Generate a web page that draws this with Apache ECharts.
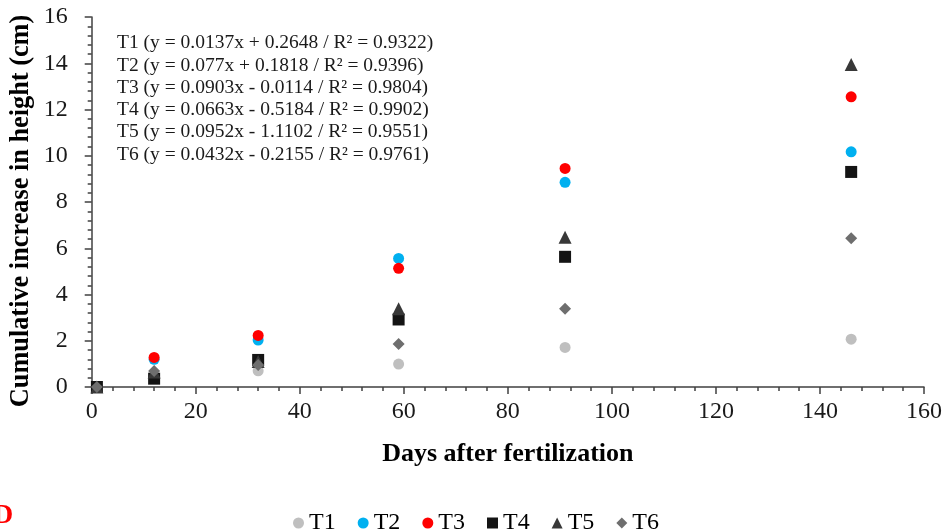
<!DOCTYPE html>
<html>
<head>
<meta charset="utf-8">
<script src="https://cdn.jsdelivr.net/npm/echarts@6/dist/echarts.min.js"></script>
<style>html,body{margin:0;padding:0;background:#fff;}#c{width:945px;height:531px;}</style>
</head>
<body>
<div id="c"></div>
<script>
const days = [1, 12, 32, 59, 91, 146];
const seriesNames = ['T1', 'T2', 'T3', 'T4', 'T5', 'T6'];
const T1 = [0, 0.45, 0.70, 0.99, 1.71, 2.07];
const T2 = [0, 1.20, 2.03, 5.56, 8.85, 10.17];
const T3 = [0, 1.28, 2.23, 5.13, 9.45, 12.55];
const T4 = [0, 0.36, 1.17, 2.92, 5.63, 9.30];
const T5 = [0, 0.65, 1.10, 3.38, 6.48, 13.95];
const T6 = [0, 0.69, 0.95, 1.86, 3.38, 6.43];
const yTitle = 'Cumulative increase in height (cm)';
const equations = [
  'T1 (y = 0.0137x + 0.2648 / R\u00B2 = 0.9322)',
  'T2 (y = 0.077x + 0.1818 / R\u00B2 = 0.9396)',
  'T3 (y = 0.0903x - 0.0114 / R\u00B2 = 0.9804)',
  'T4 (y = 0.0663x - 0.5184 / R\u00B2 = 0.9902)',
  'T5 (y = 0.0952x - 1.1102 / R\u00B2 = 0.9551)',
  'T6 (y = 0.0432x - 0.2155 / R\u00B2 = 0.9761)'
];
const allValues = [T1, T2, T3, T4, T5, T6];
const colors = ['#BFBFBF', '#00B0F0', '#FF0000', '#141414', '#383838', '#6E6E6E'];
const symbols = ['circle', 'circle', 'circle', 'rect', 'triangle', 'diamond'];
const sizes = [11, 11, 11, 12, 13, 12];

const FONT = '"Liberation Serif", "Times New Roman", serif';
const axisColor = '#404040';

const chart = echarts.init(document.getElementById('c'), null, {renderer: 'canvas'});
chart.setOption({
  animation: false,
  backgroundColor: '#fff',
  grid: {left: 91.7, right: 21, top: 17, bottom: 144, containLabel: false},
  xAxis: {
    type: 'value', min: 0, max: 160, interval: 20,
    name: 'Days after fertilization', nameLocation: 'middle', nameGap: 54,
    nameTextStyle: {fontFamily: FONT, fontWeight: 'bold', fontSize: 26, color: '#000'},
    axisLine: {show: true, onZero: false, lineStyle: {color: axisColor, width: 1.5}},
    axisTick: {show: true, length: 7, lineStyle: {color: axisColor, width: 1.5}},
    minorTick: {show: true, splitNumber: 5, length: 4, lineStyle: {color: axisColor, width: 1.5}},
    axisLabel: {fontFamily: FONT, fontSize: 24, color: '#1a1a1a', margin: 13},
    splitLine: {show: false}
  },
  yAxis: {
    type: 'value', min: 0, max: 16, interval: 2,
    axisLine: {show: true, lineStyle: {color: axisColor, width: 1.5}},
    axisTick: {show: true, length: 7, lineStyle: {color: axisColor, width: 1.5}},
    minorTick: {show: true, splitNumber: 5, length: 4, lineStyle: {color: axisColor, width: 1.5}},
    axisLabel: {fontFamily: FONT, fontSize: 24, color: '#1a1a1a', margin: 24},
    splitLine: {show: false}
  },
  legend: {
    show: true, left: 288, top: 506,
    itemWidth: 11, itemHeight: 11, itemGap: 22,
    textStyle: {fontFamily: FONT, fontSize: 24, color: '#000'},
    data: seriesNames
  },
  graphic: [
    {
      type: 'text', x: 21, y: 211, rotation: Math.PI / 2,
      style: {
        text: yTitle, font: 'bold 26.3px ' + FONT, fill: '#000',
        align: 'center', verticalAlign: 'middle'
      }
    },
    {
      type: 'text', left: 117, top: 32,
      style: {
        text: equations.join('\n'),
        font: '19.5px ' + FONT, fill: '#1a1a1a', lineHeight: 22.3
      }
    },
    {
      type: 'text', left: -7, top: 502,
      style: {text: 'D', font: 'bold 28px ' + FONT, fill: '#FF0000'}
    }
  ],
  series: seriesNames.map((n, i) => ({
    name: n, type: 'scatter',
    symbol: symbols[i], symbolSize: sizes[i],
    itemStyle: {color: colors[i], opacity: 1},
    data: days.map((d, j) => [d, allValues[i][j]]),
    z: 2 + i
  }))
});
</script>
</body>
</html>
